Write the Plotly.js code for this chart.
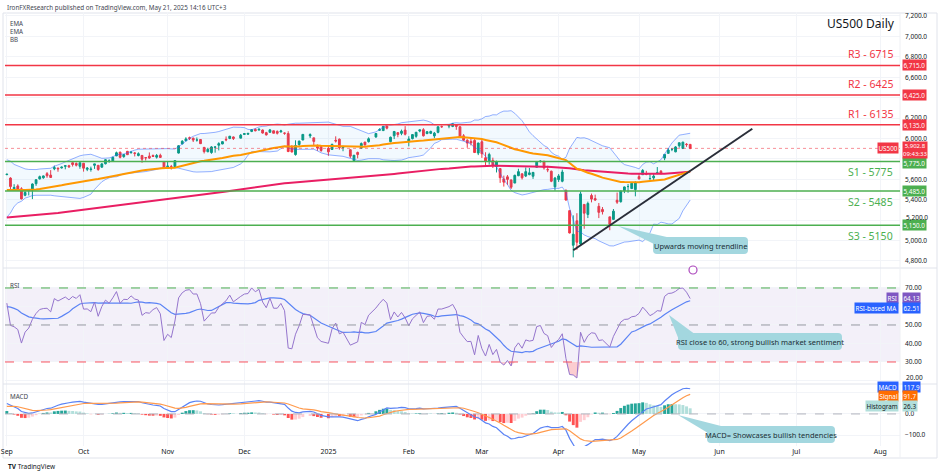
<!DOCTYPE html>
<html><head><meta charset="utf-8">
<script src="https://cdn.plot.ly/plotly-3.0.1.min.js"></script>
<style>html,body{margin:0;padding:0;background:#fff}#chart{width:940px;height:476px}</style>
</head><body><div id="chart"></div>
<script>
// ---------- DATA (US500 daily) ----------
const dates = [
 '2024-09-02','2024-09-03','2024-09-04','2024-09-05','2024-09-06','2024-09-09','2024-09-10','2024-09-11','2024-09-12','2024-09-13','2024-09-16','2024-09-17','2024-09-18','2024-09-19','2024-09-20','2024-09-23','2024-09-24','2024-09-25','2024-09-26','2024-09-27','2024-09-30',
 '2024-10-01','2024-10-02','2024-10-03','2024-10-04','2024-10-07','2024-10-08','2024-10-09','2024-10-10','2024-10-11','2024-10-14','2024-10-15','2024-10-16','2024-10-17','2024-10-18','2024-10-21','2024-10-22','2024-10-23','2024-10-24','2024-10-25','2024-10-28','2024-10-29','2024-10-30','2024-10-31',
 '2024-11-01','2024-11-04','2024-11-05','2024-11-06','2024-11-07','2024-11-08','2024-11-11','2024-11-12','2024-11-13','2024-11-14','2024-11-15','2024-11-18','2024-11-19','2024-11-20','2024-11-21','2024-11-22','2024-11-25','2024-11-26','2024-11-27','2024-11-29',
 '2024-12-02','2024-12-03','2024-12-04','2024-12-05','2024-12-06','2024-12-09','2024-12-10','2024-12-11','2024-12-12','2024-12-13','2024-12-16','2024-12-17','2024-12-18','2024-12-19','2024-12-20','2024-12-23','2024-12-24','2024-12-26','2024-12-27','2024-12-30','2024-12-31',
 '2025-01-02','2025-01-03','2025-01-06','2025-01-07','2025-01-08','2025-01-10','2025-01-13','2025-01-14','2025-01-15','2025-01-16','2025-01-17','2025-01-21','2025-01-22','2025-01-23','2025-01-24','2025-01-27','2025-01-28','2025-01-29','2025-01-30','2025-01-31',
 '2025-02-03','2025-02-04','2025-02-05','2025-02-06','2025-02-07','2025-02-10','2025-02-11','2025-02-12','2025-02-13','2025-02-14','2025-02-18','2025-02-19','2025-02-20','2025-02-21','2025-02-24','2025-02-25','2025-02-26','2025-02-27','2025-02-28',
 '2025-03-03','2025-03-04','2025-03-05','2025-03-06','2025-03-07','2025-03-10','2025-03-11','2025-03-12','2025-03-13','2025-03-14','2025-03-17','2025-03-18','2025-03-19','2025-03-20','2025-03-21','2025-03-24','2025-03-25','2025-03-26','2025-03-27','2025-03-28','2025-03-31',
 '2025-04-01','2025-04-02','2025-04-03','2025-04-04','2025-04-07','2025-04-08','2025-04-09','2025-04-10','2025-04-11','2025-04-14','2025-04-15','2025-04-16','2025-04-17','2025-04-21','2025-04-22','2025-04-23','2025-04-24','2025-04-25','2025-04-28','2025-04-29','2025-04-30',
 '2025-05-01','2025-05-02','2025-05-05','2025-05-06','2025-05-07','2025-05-08','2025-05-09','2025-05-12','2025-05-13','2025-05-14','2025-05-15','2025-05-16','2025-05-19','2025-05-20','2025-05-21'
];
const open = [
 5646,5612,5507,5535,5507,5443,5491,5496,5557,5604,5615,5655,5641,5703,5709,5711,5727,5733,5762,5755,5727,
 5757,5698,5696,5737,5737,5719,5752,5779,5775,5829,5866,5822,5874,5860,5858,5833,5834,5813,5827,5833,5817,5835,5775,
 5723,5725,5722,5857,5947,5977,6008,6003,5985,5990,5913,5870,5862,5914,5934,5946,5992,6000,6015,6003,
 6040,6042,6069,6089,6082,6083,6057,6060,6075,6069,6064,6053,6048,5913,5842,5941,5985,6025,6006,5920,5920,
 5903,5892,5982,5993,5911,5890,5782,5863,5905,5965,5969,6015,6081,6077,6121,5969,6026,6057,6050,6082,
 5970,5998,6021,6073,6086,6047,6050,6025,6060,6116,6121,6118,6134,6115,6026,5983,5971,5981,5857,
 5968,5811,5781,5785,5726,5705,5603,5624,5594,5563,5635,5654,5632,5646,5630,5718,5775,5771,5695,5679,5527,
 5597,5581,5492,5293,4954,5193,4966,5354,5256,5441,5411,5335,5305,5232,5207,5395,5381,5489,5529,5509,5499,
 5626,5645,5655,5605,5614,5663,5679,5808,5854,5893,5869,5929,5902,5944,5942
];
const high = [
 5652,5620,5552,5551,5522,5484,5501,5560,5600,5636,5637,5671,5690,5734,5715,5725,5736,5742,5767,5765,5765,
 5758,5720,5724,5751,5740,5758,5797,5796,5822,5871,5870,5847,5878,5878,5866,5864,5835,5818,5863,5843,5848,5851,5776,
 5772,5741,5784,5933,5983,6012,6018,6008,6010,5993,5916,5909,5925,5920,5963,5973,6020,6025,6020,6044,
 6053,6053,6089,6099,6099,6088,6065,6093,6079,6079,6085,6058,6071,5935,5982,5979,6041,6050,6007,5941,5929,
 5935,5949,6021,6000,5928,5890,5838,5871,5961,5965,6011,6051,6100,6119,6128,6018,6074,6063,6087,6121,
 6022,6042,6062,6085,6101,6073,6076,6064,6116,6127,6130,6147,6134,6119,6043,5992,6010,5993,5959,
 5986,5865,5860,5812,5783,5705,5636,5642,5597,5645,5703,5655,5716,5711,5670,5776,5787,5784,5732,5685,5623,
 5651,5695,5500,5293,5247,5268,5481,5354,5381,5460,5450,5368,5328,5232,5309,5470,5489,5529,5554,5562,5581,
 5659,5700,5683,5653,5654,5720,5691,5847,5906,5906,5925,5959,5968,5954,5946
];
const low = [
 5640,5500,5503,5485,5403,5434,5442,5406,5536,5598,5605,5615,5615,5689,5674,5706,5698,5713,5725,5726,5703,
 5675,5680,5675,5702,5683,5713,5746,5762,5775,5828,5805,5811,5840,5853,5824,5825,5762,5784,5800,5822,5803,5812,5703,
 5723,5696,5722,5853,5942,5976,5985,5965,5969,5946,5853,5865,5850,5861,5883,5944,5973,5993,5985,6003,
 6036,6034,6062,6070,6080,6048,6029,6059,6051,6039,6059,6036,5866,5866,5832,5921,5983,6004,5933,5879,5869,
 5830,5888,5960,5890,5875,5809,5774,5805,5900,5930,5960,6007,6076,6074,6089,5962,5994,6012,6032,6030,
 5923,5991,6007,6061,6019,6044,6043,6003,6051,6104,6100,6111,6085,6008,5977,5909,5932,5858,5837,
 5810,5732,5744,5711,5667,5565,5529,5546,5505,5563,5631,5598,5622,5640,5604,5718,5764,5695,5670,5572,5489,
 5574,5571,5391,5070,4835,4910,4950,5115,5220,5374,5387,5220,5255,5101,5207,5359,5371,5465,5468,5505,5433,
 5597,5644,5640,5598,5585,5649,5647,5787,5854,5876,5865,5910,5896,5918,5895
];
const close = [
 5650,5529,5520,5503,5408,5471,5496,5554,5596,5626,5633,5635,5618,5714,5703,5719,5733,5722,5745,5738,5762,
 5709,5710,5700,5751,5696,5751,5792,5780,5815,5860,5815,5842,5841,5865,5854,5851,5797,5810,5808,5824,5833,5814,5705,
 5729,5713,5783,5929,5973,5996,6001,5984,5985,5949,5871,5894,5917,5917,5949,5969,5987,6022,5999,6032,
 6047,6050,6086,6075,6090,6053,6035,6084,6051,6051,6074,6051,5872,5867,5931,5974,6040,6038,5971,5907,5882,
 5869,5942,5975,5909,5918,5827,5836,5843,5950,5937,5997,6049,6086,6119,6101,6012,6068,6039,6071,6041,
 5995,6038,6061,6084,6026,6066,6069,6052,6115,6115,6130,6144,6118,6013,5983,5955,5956,5862,5955,
 5850,5778,5843,5739,5770,5615,5572,5599,5522,5639,5675,5615,5675,5663,5668,5768,5777,5712,5693,5581,5612,
 5633,5671,5397,5074,5062,4983,5457,5268,5363,5406,5397,5276,5283,5158,5288,5376,5485,5525,5529,5561,5569,
 5604,5687,5650,5607,5631,5664,5660,5844,5887,5893,5917,5958,5964,5940,5903
];
// closes before the visible window (Jul-Aug 2024), used only to warm up the indicators
const priorCloses = [
 5475,5509,5537,5567,5573,5577,5634,5585,5615,5631,5667,5588,5545,5505,5564,5556,5427,5399,5459,5464,5436,5522,
 5447,5347,5186,5240,5200,5319,5344,5344,5434,5455,5543,5554,5608,5597,5621,5571,5635,5617,5626,5592,5592,5648
];
const ema50Start = 5490, ema200Start = 5221;   // EMA values at the left edge
const levelValues = [6715, 6425, 6135, 5775, 5485, 5150];
const levelNames  = ['R3','R2','R1','S1','S2','S3'];
const lastPrice = 5902.8, countdown = '09:43:33';
const trendDates = ['2025-04-07', '2025-06-13'];
const trendPrices = [4905, 6095];
const rsiLast = 64.13, rsiMaLast = 62.51;
const macdLast = 117.9, signalLast = 91.7, histLast = 26.3;
const legendNames = ['EMA','EMA','BB'];
const monthTicks = ['2024-09-02','2024-10-01','2024-11-01','2024-12-02','2025-01-02','2025-02-03','2025-03-03','2025-04-01','2025-05-01','2025-06-02','2025-07-01','2025-08-01'];
const monthLabels = ['Sep','Oct','Nov','Dec','2025','Feb','Mar','Apr','May','Jun','Jul','Aug'];
const priceTicks = [4800,5000,5200,5400,5600,5800,6000,6200,6400,6600,6800,7000,7200];
const priceTicksHidden = [5800,6400];          // covered by the level boxes in the picture
const priceTicksNudged = [5200];               // drawn slightly higher, just above the S3 box
const rsiTicks = [20,30,40,50,60,70], rsiTicksHidden = [60], rsiTicksNudged = [20];
const macdTicks = [-100,0,100], macdTicksHidden = [100];

// ---------- indicators ----------
const all = priorCloses.concat(close);
const n0 = priorCloses.length;
function emaSeries(arr, p, seed){ const k=2/(p+1); let e=seed; return arr.map(v=>{ e = (e===undefined)? v : e + k*(v-e); return e; }); }
const ema50 = emaSeries(close, 50, ema50Start);
const ema200 = emaSeries(close, 200, ema200Start);
const e12 = emaSeries(all, 12), e26 = emaSeries(all, 26);
const macdAll = e12.map((v,i)=>v-e26[i]);
const sigAll = emaSeries(macdAll, 9);
const macd = macdAll.slice(n0), signal = sigAll.slice(n0);
const hist = macd.map((v,i)=>v-signal[i]);
function rsiCalc(c,p){ const out=new Array(c.length).fill(null); let g=0,l=0;
  for(let i=1;i<=p;i++){const d=c[i]-c[i-1]; if(d>0) g+=d; else l-=d;} g/=p; l/=p; out[p]=100-100/(1+g/l);
  for(let i=p+1;i<c.length;i++){const d=c[i]-c[i-1]; g=(g*(p-1)+Math.max(d,0))/p; l=(l*(p-1)+Math.max(-d,0))/p; out[i]=l===0?100:100-100/(1+g/l);} return out; }
const rsiAll = rsiCalc(all,14);
const rsiMaAll = rsiAll.map((v,i)=>{ if(i<27) return null; let s=0; for(let j=i-13;j<=i;j++) s+=rsiAll[j]; return s/14; });
const rsi = rsiAll.slice(n0), rsiMa = rsiMaAll.slice(n0);
const bbU=[], bbL=[];
for(let i=n0;i<all.length;i++){ const w=all.slice(i-19,i+1); const m=w.reduce((a,b)=>a+b,0)/20; const sd=Math.sqrt(w.reduce((a,b)=>a+(b-m)*(b-m),0)/20); bbU.push(m+2*sd); bbL.push(m-2*sd); }
const histColors = hist.map((h,i)=>{ const p = i>0? hist[i-1] : h; return h>=0 ? (h>=p?'#26A69A':'#B2DFDB') : (h<p?'#FF5252':'#FFCDD2'); });

// ---------- geometry helpers (pixel -> paper) ----------
const PL=5, PR=900, PT=12, PB=446;
const fx = x => (x-PL)/(PR-PL);
const fy = y => (PB-y)/(PB-PT);
const FONT = 'Noto Sans, Open Sans, sans-serif';
const TXT = '#131722';

const traces = [];
traces.push({x:dates, y:bbU, type:'scatter', mode:'lines', line:{color:'rgba(41,98,255,0.5)', width:1}, xaxis:'x', yaxis:'y'});
traces.push({x:dates, y:bbL, type:'scatter', mode:'lines', line:{color:'rgba(41,98,255,0.5)', width:1}, fill:'tonexty', fillcolor:'rgba(33,150,243,0.06)', xaxis:'x', yaxis:'y'});
traces.push({x:dates, open:open, high:high, low:low, close:close, type:'candlestick', xaxis:'x', yaxis:'y',
  increasing:{line:{color:'#089981', width:1}, fillcolor:'#089981'}, decreasing:{line:{color:'#F23645', width:1}, fillcolor:'#F23645'}, whiskerwidth:0});
traces.push({x:dates, y:ema200, type:'scatter', mode:'lines', line:{color:'#E91E63', width:2}, xaxis:'x', yaxis:'y'});
traces.push({x:dates, y:ema50, type:'scatter', mode:'lines', line:{color:'#FF9800', width:2}, xaxis:'x', yaxis:'y'});
// RSI
traces.push({x:dates, y:dates.map(()=>70), type:'scatter', mode:'lines', line:{width:0, color:'rgba(0,0,0,0)'}, xaxis:'x', yaxis:'y2'});
traces.push({x:dates, y:rsi.map(v=>Math.max(v,70)), type:'scatter', mode:'lines', line:{width:0, color:'rgba(0,0,0,0)'}, fill:'tonexty', fillcolor:'rgba(76,175,80,0.25)', xaxis:'x', yaxis:'y2'});
traces.push({x:dates, y:dates.map(()=>30), type:'scatter', mode:'lines', line:{width:0, color:'rgba(0,0,0,0)'}, xaxis:'x', yaxis:'y2'});
traces.push({x:dates, y:rsi.map(v=>Math.min(v,30)), type:'scatter', mode:'lines', line:{width:0, color:'rgba(0,0,0,0)'}, fill:'tonexty', fillcolor:'rgba(242,54,69,0.25)', xaxis:'x', yaxis:'y2'});
traces.push({x:dates, y:rsiMa, type:'scatter', mode:'lines', line:{color:'#5B83F5', width:1.2}, xaxis:'x', yaxis:'y2'});
traces.push({x:dates, y:rsi, type:'scatter', mode:'lines', line:{color:'#9575CD', width:1}, xaxis:'x', yaxis:'y2'});
// MACD
traces.push({x:dates, y:hist, type:'bar', marker:{color:histColors, line:{width:0}}, xaxis:'x', yaxis:'y3'});
traces.push({x:dates, y:macd, type:'scatter', mode:'lines', line:{color:'#5B83F5', width:1.2}, xaxis:'x', yaxis:'y3'});
traces.push({x:dates, y:signal, type:'scatter', mode:'lines', line:{color:'#FF9A4D', width:1.2}, xaxis:'x', yaxis:'y3'});

const shapes = [];
const annotations = [];
// frame & panel separators
shapes.push({type:'rect', xref:'paper', yref:'paper', x0:fx(3), x1:fx(937), y0:fy(458), y1:fy(13), line:{color:'#E0E3EB', width:1}, layer:'below'});
[268,384].forEach(y=>shapes.push({type:'line', xref:'paper', yref:'paper', x0:fx(3), x1:fx(937), y0:fy(y), y1:fy(y), line:{color:'#E0E3EB', width:1}}));
shapes.push({type:'line', xref:'paper', yref:'paper', x0:fx(900), x1:fx(900), y0:fy(458), y1:fy(13), line:{color:'#EEF0F4', width:1}});
// RSI band
shapes.push({type:'rect', xref:'paper', yref:'y2', x0:0, x1:1, y0:30, y1:70, fillcolor:'rgba(126,87,194,0.09)', line:{width:0}, layer:'below'});
shapes.push({type:'line', xref:'paper', yref:'y2', x0:0, x1:1, y0:70, y1:70, line:{color:'#4CAF50', width:1, dash:'dash'}});
shapes.push({type:'line', xref:'paper', yref:'y2', x0:0, x1:1, y0:50, y1:50, line:{color:'#9598A1', width:1, dash:'dash'}});
shapes.push({type:'line', xref:'paper', yref:'y2', x0:0, x1:1, y0:30, y1:30, line:{color:'#F7525F', width:1, dash:'dash'}});
shapes.push({type:'line', xref:'paper', yref:'y3', x0:0, x1:1, y0:0, y1:0, line:{color:'#B2B5BE', width:1, dash:'dash'}});
// last price line
shapes.push({type:'line', xref:'paper', yref:'y', x0:0, x1:1, y0:lastPrice, y1:lastPrice, line:{color:'rgba(242,54,69,0.55)', width:1, dash:'dot'}});
// support / resistance levels
levelValues.forEach((v,i)=>{
  const isR = levelNames[i][0]==='R';
  const col = isR ? '#F23645' : '#4CAF50';
  shapes.push({type:'line', xref:'paper', yref:'y', x0:0, x1:1, y0:v, y1:v, line:{color:col, width:1.5}});
  annotations.push({xref:'paper', yref:'y', x:fx(895), y:v, xanchor:'right', yanchor:isR?'bottom':'top', yshift:isR?2:-2,
    text:levelNames[i]+' - '+v, showarrow:false, font:{family:FONT, size:10.5, color:col}});
  annotations.push({xref:'paper', yref:'y', x:1, y:v, xanchor:'left', xshift:2, yanchor:'middle', yshift:(i===3?-1.5:0),
    text:v.toLocaleString('en-US',{minimumFractionDigits:1, maximumFractionDigits:1}), showarrow:false,
    bgcolor:col, borderpad:0.5, font:{family:FONT, size:6.3, color:'#fff'}});
});
// trendline
shapes.push({type:'line', xref:'x', yref:'y', x0:trendDates[0], x1:trendDates[1], y0:trendPrices[0], y1:trendPrices[1], line:{color:'#2A2E39', width:2}});

// callouts
function callout(x0,y0,x1,y1,tx,ty,text){
  const r=4, c='#A3D7DF';
  const X=fx, Y=fy;
  const p = `M${X(x0+r)},${Y(y0)} L${X(x1-r)},${Y(y0)} Q${X(x1)},${Y(y0)} ${X(x1)},${Y(y0+r)} L${X(x1)},${Y(y1-r)} Q${X(x1)},${Y(y1)} ${X(x1-r)},${Y(y1)} L${X(x0+r)},${Y(y1)} Q${X(x0)},${Y(y1)} ${X(x0)},${Y(y1-r)} L${X(x0)},${Y(y0+r)} Q${X(x0)},${Y(y0)} ${X(x0+r)},${Y(y0)} Z`;
  shapes.push({type:'path', xref:'paper', yref:'paper', path:p, fillcolor:c, line:{width:0}});
  shapes.push({type:'path', xref:'paper', yref:'paper', path:`M${X(tx)},${Y(ty)} L${X(x0+1)},${Y(y0+7)} L${X(x0+16)},${Y(y0+0.5)} Z`, fillcolor:c, line:{width:0}});
  annotations.push({xref:'paper', yref:'paper', x:X((x0+x1)/2), y:Y((y0+y1)/2), text:text, showarrow:false, xanchor:'center', yanchor:'middle', font:{family:FONT, size:7.5, color:'#1B2F36'}});
}
callout(653,237,748,254,618,226,'Upwards moving trendline');
callout(678,333,842,350,669,315,'RSI close to 60, strong bullish market sentiment');
callout(707,426,835,443,678,415,'MACD= Showcases bullish tendencies');

// event icon
shapes.push({type:'circle', xref:'paper', yref:'paper', x0:fx(689), x1:fx(697), y0:fy(274), y1:fy(266), line:{color:'#AB47BC', width:1.2}, fillcolor:'#fff'});

// texts
const small = (s,c)=>({family:FONT, size:s, color:c||TXT});
annotations.push({xref:'paper', yref:'paper', x:fx(5), y:fy(7), xanchor:'left', yanchor:'middle', showarrow:false, text:'IronFXResearch published on TradingView.com, May 21, 2025 14:16 UTC+3', font:small(6.3,'#434651')});
annotations.push({xref:'paper', yref:'paper', x:fx(8), y:fy(17.5), xanchor:'left', yanchor:'top', align:'left', showarrow:false, text:legendNames.join('<br>'), font:small(6.2,'#434651')});
annotations.push({xref:'paper', yref:'paper', x:fx(897), y:fy(24), xanchor:'right', yanchor:'middle', showarrow:false, text:'US500 Daily', font:small(12)});
annotations.push({xref:'paper', yref:'paper', x:fx(8), y:fy(285), xanchor:'left', yanchor:'middle', showarrow:false, text:'RSI', font:small(6.3,'#434651')});
annotations.push({xref:'paper', yref:'paper', x:fx(8), y:fy(396), xanchor:'left', yanchor:'middle', showarrow:false, text:'MACD', font:small(6.3,'#434651')});
annotations.push({xref:'paper', yref:'paper', x:fx(6), y:fy(466), xanchor:'left', yanchor:'middle', showarrow:false, text:'<b>TV</b> TradingView', font:small(6.5,'#131722')});
// nudged tick labels
const tickAnn = (yref, v, txt, ys) => annotations.push({xref:'paper', yref:yref, x:1, y:v, xanchor:'left', xshift:4, yanchor:'middle', yshift:ys, showarrow:false, text:txt, font:small(6.5)});
priceTicksNudged.forEach(v=>tickAnn('y', v, v.toLocaleString('en-US',{minimumFractionDigits:1}), 2.5));
rsiTicksNudged.forEach(v=>tickAnn('y2', v, v.toFixed(2), 2.5));
// price label
annotations.push({xref:'paper', yref:'y', x:1, y:lastPrice, xanchor:'right', xshift:-1, yanchor:'middle', showarrow:false, text:'US500', bgcolor:'#F23645', borderpad:0.5, font:small(6.3,'#fff')});
annotations.push({xref:'paper', yref:'y', x:1, y:lastPrice, xanchor:'left', xshift:2, yanchor:'top', yshift:7.5, showarrow:false, text:lastPrice.toLocaleString('en-US',{minimumFractionDigits:1})+'<br>'+countdown, bgcolor:'#F23645', borderpad:0, font:small(6,'#fff')});
// RSI labels
annotations.push({xref:'paper', yref:'y2', x:1, y:rsiLast, xanchor:'right', xshift:-1, yanchor:'middle', yshift:1, showarrow:false, text:'RSI', bgcolor:'#7E57C2', borderpad:0.5, font:small(6.3,'#fff')});
annotations.push({xref:'paper', yref:'y2', x:1, y:rsiLast, xanchor:'left', xshift:2, yanchor:'middle', yshift:1, showarrow:false, text:rsiLast.toFixed(2), bgcolor:'#7E57C2', borderpad:0.5, font:small(6.3,'#fff')});
annotations.push({xref:'paper', yref:'y2', x:1, y:rsiMaLast, xanchor:'right', xshift:-1, yanchor:'middle', yshift:-6, showarrow:false, text:'RSI-based MA', bgcolor:'#2962FF', borderpad:0.5, font:small(6.3,'#fff')});
annotations.push({xref:'paper', yref:'y2', x:1, y:rsiMaLast, xanchor:'left', xshift:2, yanchor:'middle', yshift:-6, showarrow:false, text:rsiMaLast.toFixed(2), bgcolor:'#2962FF', borderpad:0.5, font:small(6.3,'#fff')});
// MACD labels
[[macdLast,'MACD','#2962FF','#fff',2],[signalLast,'Signal','#FF6D00','#fff',-2],[histLast,'Histogram','#B2DFDB',TXT,2]].forEach(([v,t,bg,fc,ys])=>{
  annotations.push({xref:'paper', yref:'y3', x:1, y:v, xanchor:'right', xshift:-1, yanchor:'middle', yshift:ys, showarrow:false, text:t, bgcolor:bg, borderpad:0.5, font:small(6.3,fc)});
  annotations.push({xref:'paper', yref:'y3', x:1, y:v, xanchor:'left', xshift:2, yanchor:'middle', yshift:ys, showarrow:false, text:v.toFixed(1), bgcolor:bg, borderpad:0.5, font:small(6.3,fc)});
});

const fmtTicks = (vals, hidden, fmt) => vals.map(v => hidden.includes(v) ? '' : fmt(v));
const grid = '#F2F4F8';
const layout = {
  width:940, height:476, margin:{l:PL, r:940-PR, t:PT, b:476-PB},
  paper_bgcolor:'#fff', plot_bgcolor:'#fff', showlegend:false, hovermode:false, bargap:0.2,
  font:{family:FONT, color:TXT},
  xaxis:{type:'date', anchor:'y3', range:['2024-08-30 12:00','2025-08-08 10:00'], rangebreaks:[{bounds:['sat','mon']}],
    rangeslider:{visible:false}, tickvals:monthTicks, ticktext:monthLabels, tickfont:{size:7, color:TXT, family:FONT},
    showgrid:true, gridcolor:grid, zeroline:false, showline:false, ticks:''},
  yaxis:{domain:[fy(268),1], range:[4731,7239], side:'right', tickvals:priceTicks,
    ticktext:fmtTicks(priceTicks, priceTicksHidden.concat(priceTicksNudged), v=>v.toLocaleString('en-US',{minimumFractionDigits:1})),
    tickfont:{size:6.5, color:TXT, family:FONT}, gridcolor:grid, zeroline:false, ticks:'', ticklabelstandoff:4},
  yaxis2:{domain:[fy(384),fy(268)], range:[18.1,80.8], side:'right', anchor:'x', tickvals:rsiTicks,
    ticktext:fmtTicks(rsiTicks, rsiTicksHidden.concat(rsiTicksNudged), v=>v.toFixed(2)),
    tickfont:{size:6.5, color:TXT, family:FONT}, gridcolor:grid, zeroline:false, ticks:'', ticklabelstandoff:4},
  yaxis3:{domain:[0,fy(384)], range:[-151,141], side:'right', anchor:'x', tickvals:macdTicks,
    ticktext:fmtTicks(macdTicks, macdTicksHidden, v=>(v<0?'\u2212':'')+Math.abs(v).toFixed(1)),
    tickfont:{size:6.5, color:TXT, family:FONT}, gridcolor:grid, zeroline:false, ticks:'', ticklabelstandoff:4},
  shapes:shapes, annotations:annotations
};
Plotly.newPlot('chart', traces, layout, {displayModeBar:false, staticPlot:true});
</script></body></html>
